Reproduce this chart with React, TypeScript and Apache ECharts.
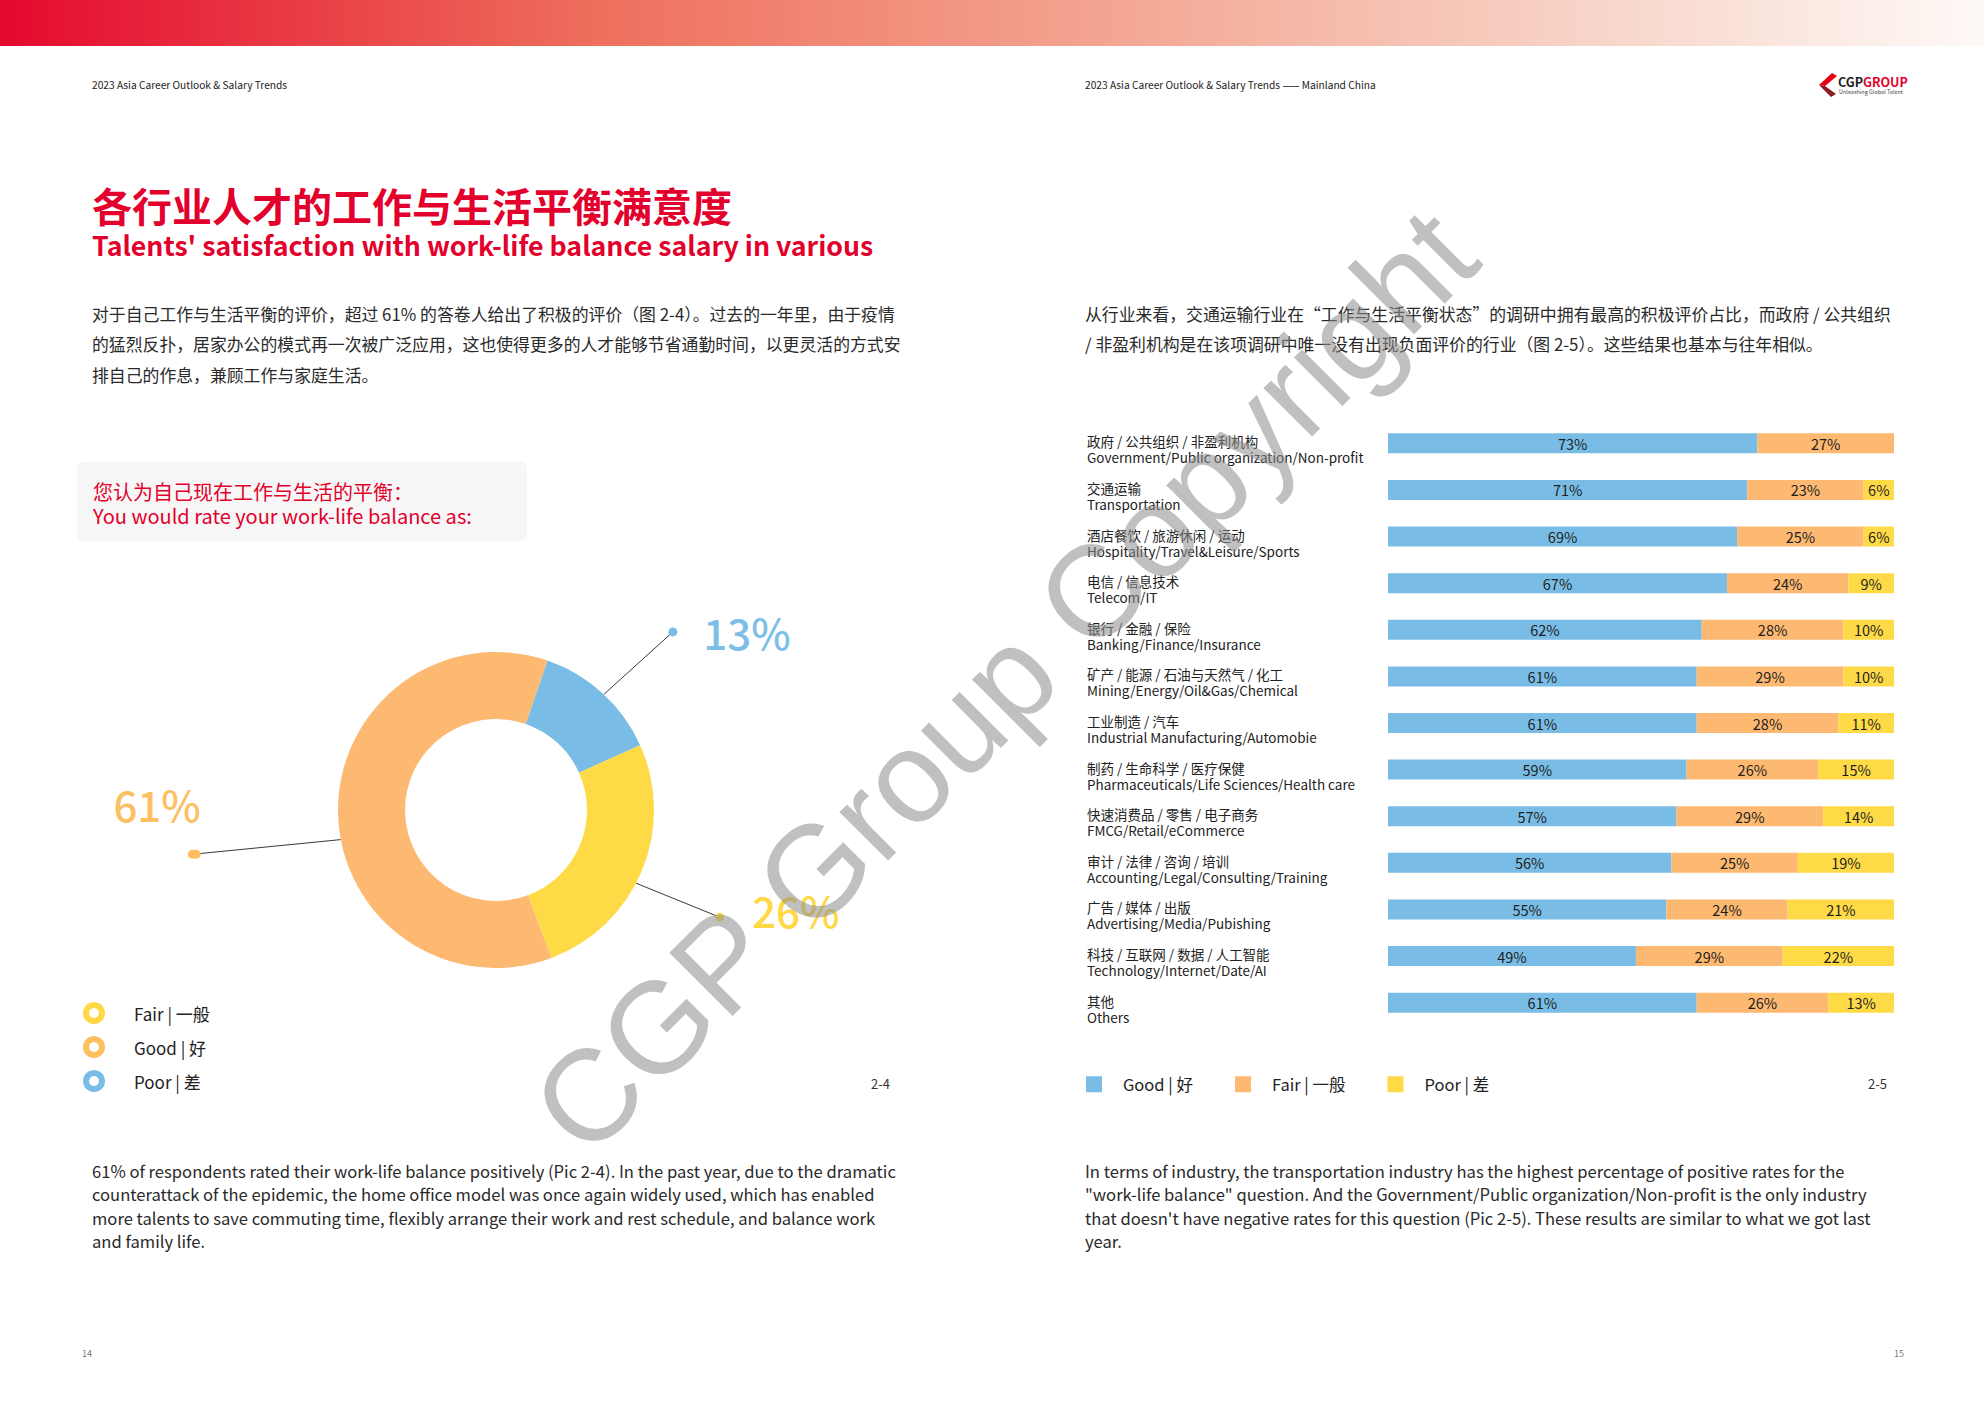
import React, { useEffect, useRef } from 'react';
import * as echarts from 'echarts';

const FONT = '"Noto Sans CJK SC", "Noto Sans", sans-serif';

// ---------- Donut data (Pic 2-4) ----------
const donutNames = ['Poor | 差', 'Fair | 一般', 'Good | 好'];
const donutValues = [13, 26, 61];
const donutLegendOrder = ['Fair | 一般', 'Good | 好', 'Poor | 差'];

// ---------- Stacked bar data (Pic 2-5) ----------
const industriesCn = [
  '政府 / 公共组织 / 非盈利机构',
  '交通运输',
  '酒店餐饮 / 旅游休闲 / 运动',
  '电信 / 信息技术',
  '银行 / 金融 / 保险',
  '矿产 / 能源 / 石油与天然气 / 化工',
  '工业制造 / 汽车',
  '制药 / 生命科学 / 医疗保健',
  '快速消费品 / 零售 / 电子商务',
  '审计 / 法律 / 咨询 / 培训',
  '广告 / 媒体 / 出版',
  '科技 / 互联网 / 数据 / 人工智能',
  '其他',
];
const industriesEn = [
  'Government/Public organization/Non-profit',
  'Transportation',
  'Hospitality/Travel&Leisure/Sports',
  'Telecom/IT',
  'Banking/Finance/Insurance',
  'Mining/Energy/Oil&Gas/Chemical',
  'Industrial Manufacturing/Automobie',
  'Pharmaceuticals/Life Sciences/Health care',
  'FMCG/Retail/eCommerce',
  'Accounting/Legal/Consulting/Training',
  'Advertising/Media/Pubishing',
  'Technology/Internet/Date/AI',
  'Others',
];
const goodValues = [73, 71, 69, 67, 62, 61, 61, 59, 57, 56, 55, 49, 61];
const fairValues = [27, 23, 25, 24, 28, 29, 28, 26, 29, 25, 24, 29, 26];
const poorValues = [0, 6, 6, 9, 10, 10, 11, 15, 14, 19, 21, 22, 13];
const barSeriesNames = ['Good | 好', 'Fair | 一般', 'Poor | 差'];

// ---------- Page texts ----------
const headerLeft = '2023 Asia Career Outlook & Salary Trends';
const headerRight = '2023 Asia Career Outlook & Salary Trends —— Mainland China';
const titleCn = '各行业人才的工作与生活平衡满意度';
const titleEn = "Talents' satisfaction with work-life balance salary in various";
const leftCnLines = [
  '对于自己工作与生活平衡的评价，超过 61% 的答卷人给出了积极的评价（图 2-4）。过去的一年里，由于疫情',
  '的猛烈反扑，居家办公的模式再一次被广泛应用，这也使得更多的人才能够节省通勤时间，以更灵活的方式安',
  '排自己的作息，兼顾工作与家庭生活。',
];
const rightCnLines = [
  '从行业来看，交通运输行业在“工作与生活平衡状态”的调研中拥有最高的积极评价占比，而政府 / 公共组织',
  '/ 非盈利机构是在该项调研中唯一没有出现负面评价的行业（图 2-5）。这些结果也基本与往年相似。',
];
const questionLines = ['您认为自己现在工作与生活的平衡：', 'You would rate your work-life balance as:'];
const leftEnLines = [
  '61% of respondents rated their work-life balance positively (Pic 2-4). In the past year, due to the dramatic',
  'counterattack of the epidemic, the home office model was once again widely used, which has enabled',
  'more talents to save commuting time, flexibly arrange their work and rest schedule, and balance work',
  'and family life.',
];
const rightEnLines = [
  'In terms of industry, the transportation industry has the highest percentage of positive rates for the',
  '"work-life balance" question. And the Government/Public organization/Non-profit is the only industry',
  "that doesn't have negative rates for this question (Pic 2-5). These results are similar to what we got last",
  'year.',
];
const figLeft = '2-4';
const figRight = '2-5';
const pageLeft = '14';
const pageRight = '15';
const watermark = 'CGP Group Copyright';

// ---------- Styles / layout ----------
const RED = '#E3002C';
const BLUE = '#79BDE6';
const ORANGE = '#FDB971';
const YELLOW = '#FFDA47';
const donutColors = [BLUE, YELLOW, ORANGE];
const PIE_CENTER = [496, 810];
const PIE_RADIUS = [91, 158];
const donutLineLengths = [93, 90, 149];
// small clockwise rotations (degrees) of each call-out line's start / end, as drawn in the reference
const calloutRotStart = [0.6, 5, -10];
const calloutRotEnd = [2.4, 3, -7.5];
const barColors = [BLUE, ORANGE, YELLOW];
const legendRingColors: Record<string, string> = {
  'Fair | 一般': '#FFD945',
  'Good | 好': '#FDC060',
  'Poor | 差': BLUE,
};

function textEl(text: string, x: number, y: number, font: string, fill: string, extra: any = {}) {
  return {
    type: 'text',
    silent: true,
    style: { text, x, y, font, fill, verticalAlign: 'middle', align: 'left', ...extra },
  };
}

function rotateAbout(pt: number[], deg: number) {
  const [cx, cy] = PIE_CENTER;
  const dx = pt[0] - cx;
  const dy = pt[1] - cy;
  const d = Math.sqrt(dx * dx + dy * dy);
  const a = Math.atan2(dy, dx) + (deg * Math.PI) / 180;
  return [cx + d * Math.cos(a), cy + d * Math.sin(a)];
}

function buildOption() {
  const dotStyle = (c: string) => ({ width: 9, height: 9, borderRadius: 4.5, backgroundColor: c });
  const pieKey = (n: string) => n + ' ';

  const graphic: any[] = [
    {
      type: 'rect',
      silent: true,
      shape: { x: 0, y: 0, width: 1984, height: 46 },
      style: {
        fill: new echarts.graphic.LinearGradient(0, 0, 1, 0, [
          { offset: 0, color: '#E4092E' },
          { offset: 0.3, color: '#EE6F5C' },
          { offset: 0.6, color: '#F4AE9B' },
          { offset: 0.85, color: '#F9DDD3' },
          { offset: 1, color: '#FEF9F7' },
        ]),
      },
    },
    textEl(headerLeft, 92, 84, `10.2px ${FONT}`, '#222'),
    textEl(headerRight, 1085, 84, `10.2px ${FONT}`, '#222'),
    // logo
    {
      type: 'polygon',
      silent: true,
      shape: { points: [[1832, 73], [1819, 85], [1825, 86], [1837, 76]] },
      style: { fill: '#E60012' },
    },
    {
      type: 'polygon',
      silent: true,
      shape: { points: [[1819, 85], [1831, 97], [1836, 94], [1825, 86]] },
      style: { fill: '#8E1B1F' },
    },
    {
      type: 'text',
      silent: true,
      style: {
        text: '{a|CGP}{b|GROUP}',
        x: 1838,
        y: 81,
        verticalAlign: 'middle',
        rich: {
          a: { fontSize: 12.5, lineHeight: 13, fontWeight: 'bold', fontFamily: FONT, fill: '#222', color: '#222' },
          b: { fontSize: 12.5, lineHeight: 13, fontWeight: 'bold', fontFamily: FONT, fill: RED, color: RED },
        },
      },
    },
    textEl('Unleashing Global Talent', 1839, 92, `5.5px ${FONT}`, '#444'),
    // titles
    textEl(titleCn, 92, 205, `bold 40px ${FONT}`, RED),
    textEl(titleEn, 92, 244, `bold 26.7px ${FONT}`, RED),
    ...leftCnLines.map((l, i) => textEl(l, 92, 313 + i * 30.5, `16.85px ${FONT}`, '#2a2a2a')),
    ...rightCnLines.map((l, i) => textEl(l, 1085, 313 + i * 30.5, `16.85px ${FONT}`, '#2a2a2a')),
    // question box
    {
      type: 'rect',
      silent: true,
      shape: { x: 77, y: 462, width: 450, height: 79, r: 6 },
      style: { fill: '#F7F7F7' },
    },
    textEl(questionLines[0], 93, 491, `20px ${FONT}`, RED),
    textEl(questionLines[1], 93, 515, `20px ${FONT}`, RED),
    textEl(figLeft, 871, 1083, `13px ${FONT}`, '#333'),
    textEl(figRight, 1887, 1083, `13px ${FONT}`, '#333', { align: 'right' }),
    ...leftEnLines.map((l, i) => textEl(l, 92, 1171 + i * 23.3, `16.6px ${FONT}`, '#2a2a2a')),
    ...rightEnLines.map((l, i) => textEl(l, 1085, 1171 + i * 23.3, `16.6px ${FONT}`, '#2a2a2a')),
    textEl(pageLeft, 82, 1353, `9px ${FONT}`, '#777'),
    textEl(pageRight, 1904, 1353, `9px ${FONT}`, '#777', { align: 'right' }),
    // watermark
    {
      type: 'text',
      silent: true,
      z: 100,
      x: 1004,
      y: 681,
      rotation: Math.PI / 4,
      style: {
        text: watermark,
        x: 0,
        y: 0,
        align: 'center',
        verticalAlign: 'middle',
        font: `130px "Liberation Sans", Arial, sans-serif`,
        fill: 'rgba(140,140,140,0.55)',
      },
    },
  ];

  const pieData = donutNames.map((n, i) => ({
    name: pieKey(n),
    value: donutValues[i],
    itemStyle: { color: donutColors[i] },
    labelLine: { length: donutLineLengths[i] },
  }));

  const option: any = {
    animation: false,
    backgroundColor: '#ffffff',
    textStyle: { fontFamily: FONT },
    graphic,
    legend: [
      {
        data: donutLegendOrder.map((n) => ({
          name: pieKey(n),
          itemStyle: { color: '#ffffff', borderColor: legendRingColors[n], borderWidth: 6 },
        })),
        orient: 'vertical',
        left: 83,
        top: 1002,
        padding: 0,
        icon: 'circle',
        itemWidth: 16,
        itemHeight: 16,
        itemGap: 12,
        selectedMode: false,
        formatter: (n: string) => n.trim(),
        textStyle: { fontSize: 17, color: '#222', fontFamily: FONT, lineHeight: 20, padding: [0, 0, 0, 27] },
      },
      {
        data: barSeriesNames,
        orient: 'horizontal',
        left: 1086,
        top: 1076,
        padding: 0,
        icon: 'rect',
        itemWidth: 16,
        itemHeight: 16,
        itemGap: 42,
        selectedMode: false,
        textStyle: { fontSize: 16.5, color: '#222', fontFamily: FONT, padding: [0, 0, 0, 16], width: 80 },
      },
    ],
    grid: { left: 1388, width: 506, top: 420, height: 606, containLabel: false },
    xAxis: { type: 'value', min: 0, max: 100, show: false },
    yAxis: {
      type: 'category',
      data: industriesCn,
      inverse: true,
      axisLine: { show: false },
      axisTick: { show: false },
      splitLine: { show: false },
      axisLabel: {
        align: 'left',
        margin: 301,
        padding: [12, 0, 0, 0],
        formatter: (v: string, i: number) => `{cn|${v}}\n{en|${industriesEn[i]}}`,
        rich: {
          cn: { fontSize: 13.5, lineHeight: 16, color: '#222', fontFamily: FONT },
          en: { fontSize: 13.5, lineHeight: 16, color: '#222', fontFamily: FONT },
        },
      },
    },
    series: [
      {
        type: 'pie',
        center: PIE_CENTER,
        radius: PIE_RADIUS,
        startAngle: 71,
        clockwise: true,
        avoidLabelOverlap: false,
        silent: true,
        emphasis: { disabled: true },
        label: {
          show: true,
          position: 'outside',
          distanceToLabelLine: 0,
          formatter: (p: any) => {
            const k = ['B', 'Y', 'O'][p.dataIndex];
            const pct = `${p.value}%`;
            if (k === 'O') return `{pctO|${pct}}\n{dotO|}\n{spO|}`;
            return `{dot${k}|}{pct${k}|${pct}}`;
          },
          rich: {
            dotB: dotStyle(BLUE),
            dotY: dotStyle(YELLOW),
            dotO: { ...dotStyle('#FDC060'), align: 'right', lineHeight: 9, padding: [0, 4, 0, 0] },
            pctB: { fontSize: 42, color: '#7DBFE8', fontFamily: FONT, fontWeight: 500, padding: [0, 0, 0, 26] },
            pctY: { fontSize: 42, color: '#FFD845', fontFamily: FONT, fontWeight: 500, padding: [0, 0, 16, 28] },
            pctO: { fontSize: 42, color: '#FCC064', fontFamily: FONT, fontWeight: 500, lineHeight: 92, align: 'right' },
            spO: { width: 1, height: 92, lineHeight: 92 },
          },
        },
        labelLine: { show: true, length: 92, length2: 0, smooth: false, lineStyle: { color: '#3a3a3a', width: 1 } },
        labelLayout: (params: any) => {
          const pts = params.labelLinePoints;
          if (!pts || pts.length < 2) return {};
          const i = params.dataIndex;
          const start = rotateAbout(pts[0], calloutRotStart[i]);
          const end = rotateAbout(pts[pts.length - 1], calloutRotEnd[i]);
          const mid = rotateAbout(pts[Math.min(1, pts.length - 1)], calloutRotEnd[i]);
          const isLeft = end[0] < PIE_CENTER[0];
          return {
            x: isLeft ? end[0] + 8.5 : end[0] - 4.5,
            y: end[1],
            labelLinePoints: [start, mid, end],
          };
        },
        data: pieData,
      },
      ...barSeriesNames.map((name, si) => ({
        type: 'bar',
        name,
        stack: 'total',
        barWidth: 20,
        silent: true,
        data: [goodValues, fairValues, poorValues][si],
        itemStyle: { color: barColors[si] },
        label: {
          show: true,
          position: 'inside',
          formatter: (p: any) => (p.value ? `${p.value}%` : ''),
          color: '#1e1e1e',
          fontSize: 14.5,
          fontFamily: FONT,
        },
      })),
    ],
  };
  return option;
}

export default function App() {
  const ref = useRef<HTMLDivElement>(null);
  useEffect(() => {
    document.body.style.margin = '0';
    const chart = echarts.init(ref.current!, undefined, { renderer: 'svg' });
    chart.setOption(buildOption());
    return () => chart.dispose();
  }, []);
  return (
    <div
      ref={ref}
      style={{ position: 'absolute', left: 0, top: 0, width: 1984, height: 1403, background: '#fff' }}
    />
  );
}
